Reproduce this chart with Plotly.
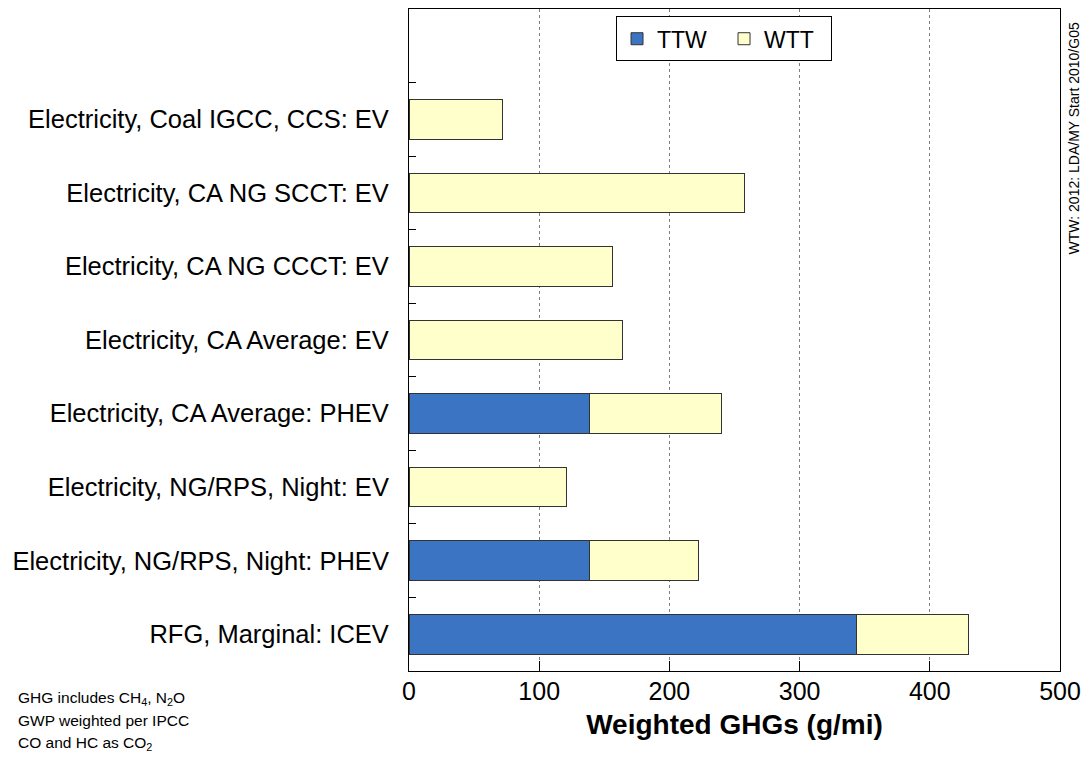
import plotly.graph_objects as go

# Data (top-to-bottom order as displayed)
categories = [
    "Electricity, Coal IGCC, CCS: EV",
    "Electricity, CA NG SCCT: EV",
    "Electricity, CA NG CCCT: EV",
    "Electricity, CA Average: EV",
    "Electricity, CA Average: PHEV",
    "Electricity, NG/RPS, Night: EV",
    "Electricity, NG/RPS, Night: PHEV",
    "RFG, Marginal: ICEV",
]
ttw = [None, None, None, None, 139, None, 139, 344]
wtt = [72, 258, 156, 164, 101, 121, 83, 86]

x_ticks = [0, 100, 200, 300, 400, 500]
x_title = "Weighted GHGs (g/mi)"
side_note = "WTW: 2012: LDA/MY Start 2010/G05"
notes = [
    "GHG includes CH<sub>4</sub>, N<sub>2</sub>O",
    "GWP weighted per IPCC",
    "CO and HC as CO<sub>2</sub>",
]

FONT = "Arial, Liberation Sans, sans-serif"
TTW_COLOR = "#3A74C3"
WTT_COLOR = "#FFFFCC"
EDGE = "#333333"

# category order bottom-to-top, plus one empty slot on top
cat_order = list(reversed(categories)) + [" "]

fig = go.Figure()
fig.add_trace(go.Bar(
    name="TTW", y=categories, x=ttw, orientation="h",
    marker=dict(color=TTW_COLOR, line=dict(color=EDGE, width=1)),
))
fig.add_trace(go.Bar(
    name="WTT", y=categories, x=wtt, orientation="h",
    marker=dict(color=WTT_COLOR, line=dict(color=EDGE, width=1)),
))

fig.update_layout(
    width=1089, height=769,
    margin=dict(l=409, r=26, t=8, b=98),
    paper_bgcolor="white", plot_bgcolor="white",
    barmode="stack", bargap=0.46,
    font=dict(family=FONT, color="black", size=25),
    showlegend=True,
    legend=dict(
        orientation="h", x=0.318, y=0.989, xanchor="left", yanchor="top",
        bordercolor="black", borderwidth=1, bgcolor="white",
        font=dict(size=23, family=FONT), traceorder="normal",
        itemwidth=30, entrywidth=62,
    ),
    xaxis=dict(
        range=[0, 500], tickvals=x_ticks, ticks="inside", ticklen=10,
        tickcolor="black", showline=True, linecolor="black", linewidth=1,
        mirror=True, showgrid=True, gridcolor="#7f7f7f", gridwidth=1,
        griddash="3px,3px", zeroline=False,
        tickfont=dict(size=25, family=FONT),
        title=dict(text="<b>" + x_title + "</b>", font=dict(size=28, family=FONT), standoff=10),
        fixedrange=True,
    ),
    yaxis=dict(
        type="category", categoryorder="array", categoryarray=cat_order,
        range=[-0.5, 8.5], tickson="boundaries", ticks="inside", ticklen=7,
        tickcolor="black", showline=True, linecolor="black", linewidth=1,
        mirror=True, showgrid=False, zeroline=False,
        tickfont=dict(size=25.5, family=FONT), ticklabelstandoff=14,
        fixedrange=True,
    ),
)

try:
    fig.update_xaxes(ticklabelstandoff=-2)
except Exception:
    fig.update_xaxes(ticklabelstandoff=0)

fig.add_annotation(
    text=side_note, textangle=-90, xref="paper", yref="paper",
    x=1.021, y=0.804, xanchor="center", yanchor="middle", showarrow=False,
    font=dict(size=14, family=FONT, color="black"),
)
for txt, yy in zip(notes, [-0.0422, -0.0754, -0.1101]):
    fig.add_annotation(
        text=txt, xref="paper", yref="paper", x=-0.604, y=yy,
        xanchor="left", yanchor="middle", showarrow=False, align="left",
        font=dict(size=15.5, family=FONT, color="black"),
    )

fig.write_html(
    "out.html",
    config={"displayModeBar": False},
    post_script="document.body.style.margin='0';document.body.style.overflow='hidden';",
)
